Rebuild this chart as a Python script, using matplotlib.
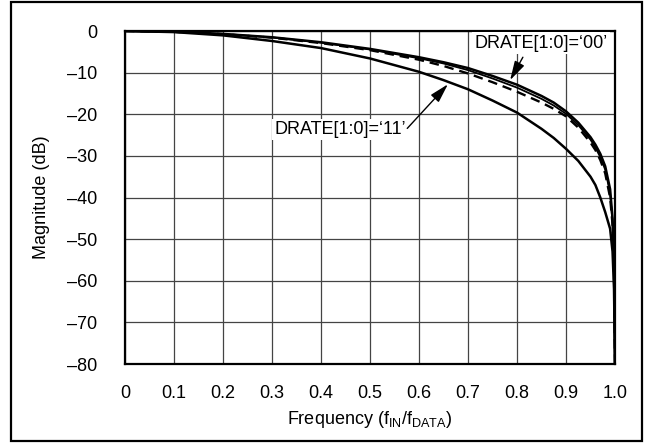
import matplotlib
matplotlib.use("Agg")
import matplotlib.pyplot as plt
from matplotlib.patches import Rectangle

plt.rcParams['font.family'] = ['Liberation Sans', 'DejaVu Sans']
plt.rcParams['font.size'] = 13

# values (frequency as fraction of f_DATA, magnitude in dB)
freq = [0, 0.1, 0.2, 0.3, 0.4, 0.5, 0.6, 0.65, 0.7, 0.75, 0.8, 0.85, 0.875,
        0.9, 0.925, 0.95, 0.96, 0.97, 0.98, 0.99, 0.995, 0.998, 1.0]
drate_00 = [0, -0.17, -0.7, -1.5, -2.7, -4.3, -6.3, -7.5, -8.9, -10.8, -12.9, -15.6, -17.2,
            -19.3, -22.0, -25.5, -27.3, -29.5, -32.5, -38.0, -45.0, -55.0, -80.0]
drate_01 = [0, -0.18, -0.72, -1.55, -2.8, -4.45, -6.55, -7.8, -9.4, -11.4, -13.6, -16.3, -17.9,
            -19.9, -22.6, -26.1, -28.0, -30.3, -33.3, -39.0, -46.0, -56.0, -80.0]
drate_10 = [0, -0.19, -0.75, -1.6, -2.9, -4.6, -6.9, -8.4, -10.2, -12.3, -14.6, -17.2, -18.7,
            -20.5, -23.2, -26.8, -28.6, -31.0, -34.2, -40.0, -46.5, -57.0, -80.0]
drate_11 = [0, -0.26, -1.05, -2.4, -4.1, -6.6, -9.8, -11.8, -14.0, -16.7, -19.6, -23.5, -25.7,
            -28.3, -31.2, -35.0, -37.0, -40.0, -43.5, -47.5, -53.0, -62.0, -80.0]

xticks = [0, 0.1, 0.2, 0.3, 0.4, 0.5, 0.6, 0.7, 0.8, 0.9, 1.0]
xticklabels = ["0", "0.1", "0.2", "0.3", "0.4", "0.5", "0.6", "0.7", "0.8", "0.9", "1.0"]
yticks = [0, -10, -20, -30, -40, -50, -60, -70, -80]

fig = plt.figure(figsize=(6.49, 4.44), dpi=100)
ax = fig.add_axes([125/649, 80/444, 490/649, 333/444])

ax.plot(freq, drate_11, color='black', lw=1.8, zorder=3, solid_joinstyle='round')
ax.plot(freq, drate_10, color='black', lw=1.7, ls=(0, (4, 2.5)), zorder=3)
ax.plot(freq, drate_01, color='black', lw=1.3, zorder=3, solid_joinstyle='round')
ax.plot(freq, drate_00, color='black', lw=1.8, zorder=3, solid_joinstyle='round')

ax.set_xlim(0, 1.0)
ax.set_ylim(-80, 0)
ax.set_xticks(xticks)
ax.set_xticklabels(xticklabels)
ax.set_yticks(yticks)
ax.set_yticklabels([str(t).replace('-', '\u2013') for t in yticks])
ax.tick_params(length=0)
ax.tick_params(axis='x', pad=15)
ax.tick_params(axis='y', pad=20)
ax.grid(True, color='#444444', lw=0.9)
ax.set_axisbelow(True)
for s in ax.spines.values():
    s.set_linewidth(1.6)

ax.set_xlabel("Frequency (f$_{\\mathregular{IN}}$/f$_{\\mathregular{DATA}}$)", labelpad=5)
ax.set_ylabel("Magnitude (dB)", labelpad=12)

box = dict(facecolor='white', edgecolor='none', pad=1.5)
ax.text(0.849, -2.9, "DRATE[1:0]=\u201800\u2019", ha='center', va='center', bbox=box, zorder=4)
ax.text(0.439, -23.6, "DRATE[1:0]=\u201811\u2019", ha='center', va='center', bbox=box, zorder=4)

arrow = dict(arrowstyle='-|>,head_length=0.9,head_width=0.25', color='black', lw=1.0, shrinkA=0, shrinkB=0)
ax.annotate("", xy=(0.786, -11.8), xytext=(0.812, -6.3), arrowprops=arrow, zorder=5)
ax.annotate("", xy=(0.659, -12.8), xytext=(0.576, -23.4), arrowprops=arrow, zorder=5)

# outer frame around the whole figure
fig.patches.append(Rectangle((11/649, 3/444), 631/649, 439/444, transform=fig.transFigure,
                             fill=False, edgecolor='black', lw=1.6))

fig.savefig("out.png", dpi=100)
